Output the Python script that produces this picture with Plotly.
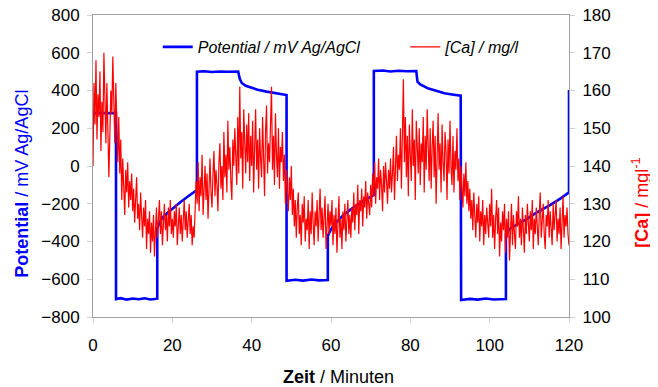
import plotly.graph_objects as go

# Potential (mV Ag/AgCl) vs time (min)
pot_time = [0, 5.8, 5.8, 7, 8.5, 10, 11.5, 13, 14.5, 16.2, 16.2, 17, 18, 20, 22, 24, 26.2, 26.2,
            28, 30, 32, 34, 36.6, 37.0, 37.5, 38.5, 39.6, 41.5, 43.8, 46, 48.8, 48.8,
            51, 53, 55, 57, 59.2, 59.2, 60, 61.3, 63, 65, 67, 69, 70.8, 70.8,
            73, 75, 77, 79, 81.5, 81.8, 82.5, 84.4, 86.5, 88.6, 90.5, 92.7, 92.8,
            95, 97, 99, 101, 104.1, 104.1, 105, 106.2, 109, 112, 115, 118, 120, 120]
pot_mv = [280, 280, -705, -700, -708, -702, -706, -701, -707, -703, -330, -290, -262, -225, -192, -160, -127, 500,
          502, 498, 501, 499, 500, 462, 440, 425, 417, 404, 394, 386, 376, -608,
          -603, -607, -601, -606, -604, -370, -335, -300, -262, -230, -200, -176, -154, 503,
          506, 501, 505, 502, 503, 447, 432, 412, 397, 385, 379, 373, -710,
          -704, -708, -702, -707, -705, -360, -335, -318, -285, -245, -210, -170, -140, 403]

# [Ca] (mg/l) sampled every 0.25 min from 0 to 120 (one row = 5 minutes)
ca_mgl = [
    140, 162, 151, 168, 147, 159, 153, 165, 144, 157, 149, 170, 158, 146, 162, 152, 137, 148, 160, 154,
    169, 157, 146, 162, 150, 141, 153, 138, 147, 131, 142, 136, 127, 139, 133, 141, 129, 136, 131, 138,
    128, 134, 125, 131, 137, 126, 130, 123, 133, 127, 121, 129, 124, 131, 118, 126, 122, 128, 117, 125,
    120, 127, 116, 123, 129, 121, 126, 131, 122, 128, 119, 125, 130, 123, 127, 120, 129, 124, 131, 122,
    126, 121, 128, 124, 130, 119, 125, 129, 122, 127, 120, 126, 131, 123, 128, 121, 125, 130, 122, 127,
    119, 124, 121, 129, 136, 130, 141, 128, 137, 132, 143, 127, 135, 140, 131, 138, 126, 134, 142, 133,
    129, 138, 144, 132, 139, 135, 128, 141, 146, 134, 140, 131, 149, 137, 143, 133, 152, 139, 145, 136,
    131, 147, 140, 150, 143, 135, 153, 138, 161, 142, 149, 134, 155, 146, 138, 151, 141, 154, 136, 148,
    140, 152, 133, 145, 155, 139, 147, 134, 150, 142, 137, 153, 144, 132, 149, 156, 138, 146, 141, 152,
    161, 139, 148, 135, 154, 143, 137, 150, 134, 145, 141, 149, 136, 143, 130, 139, 134, 128, 137, 131,
    140, 127, 134, 124, 131, 121, 129, 133, 122, 127, 119, 130, 125, 132, 120, 126, 123, 131, 118, 128,
    122, 133, 125, 119, 128, 124, 131, 120, 127, 134, 123, 129, 121, 126, 132, 118, 125, 130, 122, 128,
    124, 131, 119, 127, 122, 129, 117, 125, 132, 121, 126, 118, 128, 123, 130, 120, 126, 131, 122, 127,
    121, 129, 125, 133, 123, 130, 127, 135, 122, 131, 128, 134, 124, 132, 129, 136, 126, 133, 130, 127,
    135, 129, 138, 132, 141, 130, 137, 134, 142, 131, 139, 135, 128, 140, 133, 141, 136, 130, 139, 134,
    142, 133, 138, 145, 131, 140, 148, 136, 143, 139, 150, 134, 146, 163, 141, 153, 137, 148, 132, 151,
    143, 136, 155, 140, 147, 131, 152, 144, 138, 150, 135, 146, 141, 153, 133, 148, 139, 155, 142, 136,
    150, 134, 145, 152, 137, 148, 130, 143, 154, 139, 146, 133, 151, 141, 136, 149, 144, 131, 147, 138,
    152, 140, 135, 148, 133, 144, 139, 150, 136, 142, 131, 140, 135, 129, 138, 132, 141, 130, 136, 128,
    134, 126, 131, 123, 133, 127, 121, 130, 125, 132, 120, 128, 124, 131, 119, 127, 122, 129, 125, 121,
    130, 124, 134, 121, 127, 118, 126, 131, 122, 129, 116, 125, 120, 128, 123, 130, 117, 126, 121, 128,
    115, 124, 130, 119, 127, 122, 118, 128, 124, 132, 121, 126, 119, 129, 123, 117, 127, 122, 130, 125,
    120, 128, 123, 131, 118, 126, 122, 129, 125, 119, 127, 133, 121, 126, 130, 122, 118, 127, 124, 131,
    121, 128, 124, 119, 130, 123, 127, 131, 120, 126, 122, 129, 118, 125, 132, 121, 127, 124, 129, 122,
    119]
ca_time = [i * 0.25 for i in range(len(ca_mgl))]

x_ticks = [0, 20, 40, 60, 80, 100, 120]
y1_ticks = [-800, -600, -400, -200, 0, 200, 400, 600, 800]
y2_ticks = [100, 110, 120, 130, 140, 150, 160, 170, 180]

FONT = "Liberation Sans, Arial, sans-serif"
AXC = "#a0a0a0"
TKC = "#d0d0d0"

fig = go.Figure()
fig.add_trace(go.Scatter(x=pot_time, y=pot_mv, mode="lines", name="<i>Potential / mV Ag/AgCl</i>",
                         line=dict(color="#0000FF", width=2.6), yaxis="y", legend="legend"))
fig.add_trace(go.Scatter(x=ca_time, y=ca_mgl, mode="lines", name="<i>[Ca] / mg/l</i>",
                         line=dict(color="#FF0000", width=1.2), yaxis="y2", legend="legend2"))

leg_common = dict(orientation="h", yanchor="middle", xanchor="left", y=0.894,
                  bgcolor="rgba(0,0,0,0)", font=dict(size=16, family=FONT), itemwidth=30)

# the page body adds an 8 px offset, so the figure is 8 px smaller and margins shifted
fig.update_layout(
    template="none",
    width=650, height=379,
    margin=dict(l=85, r=89, t=7, b=70, autoexpand=False),
    paper_bgcolor="white", plot_bgcolor="white",
    font=dict(family=FONT, size=17, color="black"),
    showlegend=True,
    legend=dict(x=0.136, **leg_common),
    legend2=dict(x=0.656, **leg_common),
    xaxis=dict(range=[0, 120], tickvals=x_ticks, showgrid=False, zeroline=False, automargin=False,
               showline=True, linecolor=AXC, linewidth=1, mirror=True, ticklabeloverflow="allow",
               ticks="outside", ticklen=5, tickcolor=TKC, ticklabelstandoff=8),
    yaxis=dict(range=[-800, 800], tickvals=y1_ticks, showgrid=False, zeroline=False, automargin=False,
               showline=True, linecolor=AXC, linewidth=1, ticklabeloverflow="allow",
               ticks="outside", ticklen=5, tickcolor=TKC, ticklabelstandoff=4),
    yaxis2=dict(range=[100, 180], tickvals=y2_ticks, overlaying="y", side="right", automargin=False,
                showgrid=False, zeroline=False, showline=True, linecolor=AXC, linewidth=1,
                ticklabeloverflow="allow",
                ticks="outside", ticklen=5, tickcolor=TKC, ticklabelstandoff=4),
    annotations=[
        dict(text="<b>Zeit</b> / Minuten", x=0.515, y=-0.2, xref="paper", yref="paper",
             xanchor="center", yanchor="middle", showarrow=False, font=dict(size=18)),
        dict(text="<b>Potential</b> / mV Ag/AgCl", x=-0.148, y=0.44, xref="paper", yref="paper",
             xanchor="center", yanchor="middle", textangle=-90, showarrow=False,
             font=dict(size=18, color="#0000FF")),
        dict(text="<b>[Ca]</b> / mgl<sup>-1</sup>", x=1.15, y=0.38, xref="paper", yref="paper",
             xanchor="center", yanchor="middle", textangle=-90, showarrow=False,
             font=dict(size=18, color="#FF0000")),
    ],
)

fig.write_html("out.html")
